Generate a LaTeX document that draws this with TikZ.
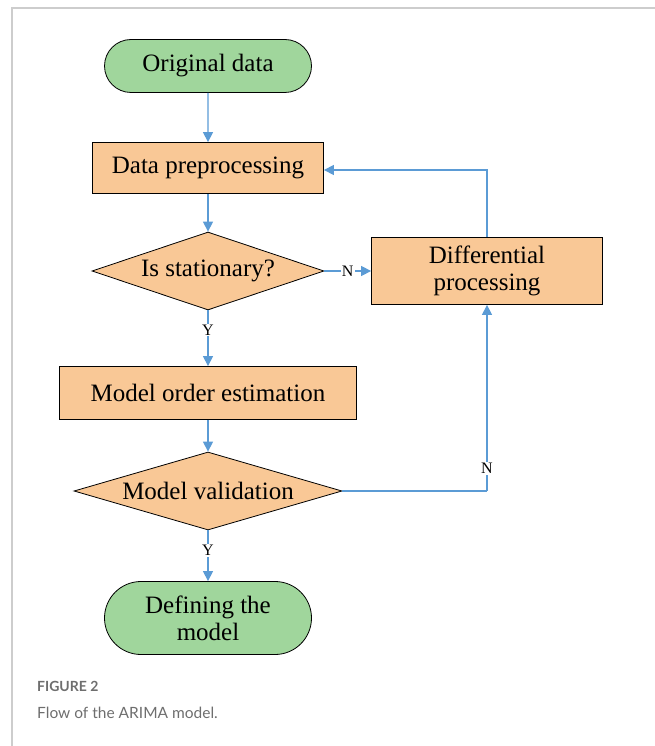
\documentclass[tikz,border=0pt]{standalone}
\usepackage{fontspec}
\setmainfont{Liberation Serif}
\newfontfamily\capfont{Lato}
\usetikzlibrary{shapes.geometric,shapes.misc,arrows.meta}
\definecolor{flowblue}{RGB}{91,155,213}
\definecolor{boxorange}{RGB}{249,200,150}
\definecolor{termgreen}{RGB}{160,214,156}
\definecolor{framegray}{RGB}{205,205,205}
\definecolor{capgray}{RGB}{110,110,110}
\tikzset{
  term/.style={rounded rectangle, draw=black, fill=termgreen, line width=0.8pt, font=\fontsize{25}{27}\selectfont, align=center, inner sep=0pt},
  procbox/.style={rectangle, draw=black, fill=boxorange, line width=0.8pt, font=\fontsize{25}{27}\selectfont, align=center, inner sep=0pt},
  decide/.style={diamond, draw=black, fill=boxorange, line width=0.8pt, font=\fontsize{25}{27}\selectfont, aspect=3, inner sep=0pt},
  flow/.style={draw=flowblue, line width=1.3pt, -{Triangle[length=10pt,width=10pt]}},
  flowplain/.style={draw=flowblue, line width=1.3pt},
  lbl/.style={font=\fontsize{16}{17}\selectfont, fill=white, inner sep=1pt}
}
\begin{document}
\begin{tikzpicture}[x=1pt,y=-1pt]
\useasboundingbox (0,0) rectangle (655,746);
\draw[framegray, line width=1.5pt] (12,746) -- (12,8) -- (655,8);
\node[term, minimum width=207pt, minimum height=53pt] (orig) at (208,66) {Original data};
\node[procbox, minimum width=231pt, minimum height=51pt] (prep) at (208,168) {Data preprocessing};
\node[decide, minimum width=232pt, minimum height=78pt] (stat) at (208,271) {Is stationary?};
\node[procbox, minimum width=231pt, minimum height=67pt] (diff) at (487,271) {Differential\\processing};
\node[procbox, minimum width=297pt, minimum height=53pt] (order) at (208,393) {Model order estimation};
\node[decide, minimum width=268pt, minimum height=78pt] (valid) at (208,491) {Model validation};
\node[term, minimum width=207pt, minimum height=73pt] (def) at (208,618) {Defining the\\model};
\coordinate (c1) at (487,170);
\coordinate (c2) at (487,491);
\draw[flow] (orig) -- (prep);
\draw[flow] (prep) -- (stat);
\draw[flow] (stat) -- node[lbl] {N} (diff);
\draw[flow] (stat) -- node[lbl, pos=0.35] {Y} (order);
\draw[flow] (order) -- (valid);
\draw[flow] (valid) -- node[lbl, pos=0.4] {Y} (def);
\draw[flow] (diff.north) -- (c1) -- (prep.east |- c1);
\draw[flowplain] (valid.east) -- (c2);
\draw[flow] (c2) -- node[lbl, pos=0.12] {N} (diff.south);
\node[anchor=west, font=\capfont\bfseries\fontsize{14}{16}\selectfont, text=capgray, inner sep=0pt] (figlbl) at (37,686) {FIGURE 2};
\node[anchor=west, font=\capfont\fontsize{15.5}{18}\selectfont, text=capgray, inner sep=0pt] (figcap) at (37,713) {Flow of the ARIMA model.};
\end{tikzpicture}
\end{document}
